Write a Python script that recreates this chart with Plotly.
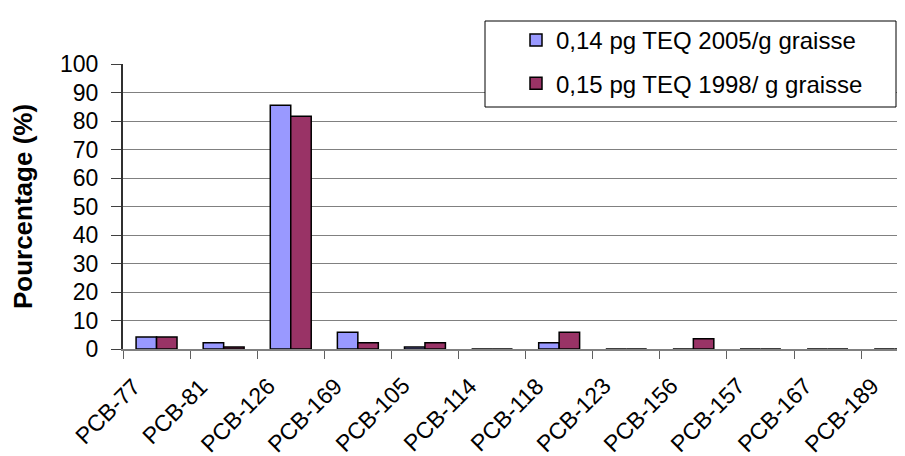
import plotly.graph_objects as go

categories = ["PCB-77", "PCB-81", "PCB-126", "PCB-169", "PCB-105", "PCB-114",
              "PCB-118", "PCB-123", "PCB-156", "PCB-157", "PCB-167", "PCB-189"]
teq_2005 = [4.2, 2.2, 85.5, 5.9, 0.7, 0, 2.2, 0, 0, 0, 0, 0]
teq_1998 = [4.2, 0.7, 81.7, 2.2, 2.2, 0, 5.9, 0, 3.6, 0, 0, 0]
name_2005 = "0,14 pg TEQ 2005/g graisse"
name_1998 = "0,15 pg TEQ 1998/ g graisse"
y_ticks = [0, 10, 20, 30, 40, 50, 60, 70, 80, 90, 100]

FONT = "Liberation Sans, Arial, sans-serif"
W, H = 905, 456
L, R, T, B = 115, 0, 56, 115
plot_w = W - L - R
plot_h = H - T - B
cat_w = 67.1


def px_x(p):
    return (p - L) / plot_w


def px_y(p):
    return (H - B - p) / plot_h


fig = go.Figure()
fig.add_trace(go.Bar(x=categories, y=teq_2005, name=name_2005, legendgroup="a",
                     marker=dict(color="#9999FF", line=dict(color="black", width=1.5))))
fig.add_trace(go.Bar(x=categories, y=teq_1998, name=name_1998, legendgroup="b",
                     marker=dict(color="#993366", line=dict(color="black", width=1.5))))

# legend box, white, lying over the top gridlines as in the original
fig.add_shape(type="rect", xref="paper", yref="paper",
              x0=px_x(477), x1=px_x(888), y0=px_y(99), y1=px_y(13),
              fillcolor="white", line=dict(color="black", width=1), layer="above")

# rotated category labels, ending a little left of each category centre
for c in categories:
    fig.add_annotation(x=c, xref="x", y=px_y(362), yref="paper",
                       text=c, textangle=-45, showarrow=False,
                       xanchor="right", yanchor="top", xshift=-8,
                       font=dict(size=23, family=FONT, color="black"))

fig.update_layout(
    width=W, height=H,
    margin=dict(l=L, r=R, t=T, b=B),
    plot_bgcolor="white", paper_bgcolor="white",
    barmode="group", bargap=0.39, bargroupgap=0,
    font=dict(family=FONT, color="black"),
    showlegend=True,
    legend=dict(x=px_x(508), y=px_y(10), xanchor="left", yanchor="top",
                bgcolor="rgba(0,0,0,0)", borderwidth=0,
                font=dict(size=24, family=FONT), tracegroupgap=9,
                traceorder="grouped"),
    xaxis=dict(range=[-0.5, plot_w / cat_w - 0.5], showgrid=False,
               showline=True, linecolor="#808080", linewidth=2,
               ticks="outside", tickson="boundaries", ticklen=8, tickcolor="#606060",
               showticklabels=False),
    yaxis=dict(range=[0, 100], tickvals=y_ticks, showgrid=True,
               gridcolor="#808080", gridwidth=1,
               showline=True, linecolor="#303030", linewidth=2,
               ticks="outside", ticklen=10, tickcolor="#404040",
               tickfont=dict(size=23), ticklabelstandoff=8,
               title=dict(text="<b>Pourcentage (%)</b>", font=dict(size=26), standoff=22),
               zeroline=False),
)

fig.write_html("out.html")
